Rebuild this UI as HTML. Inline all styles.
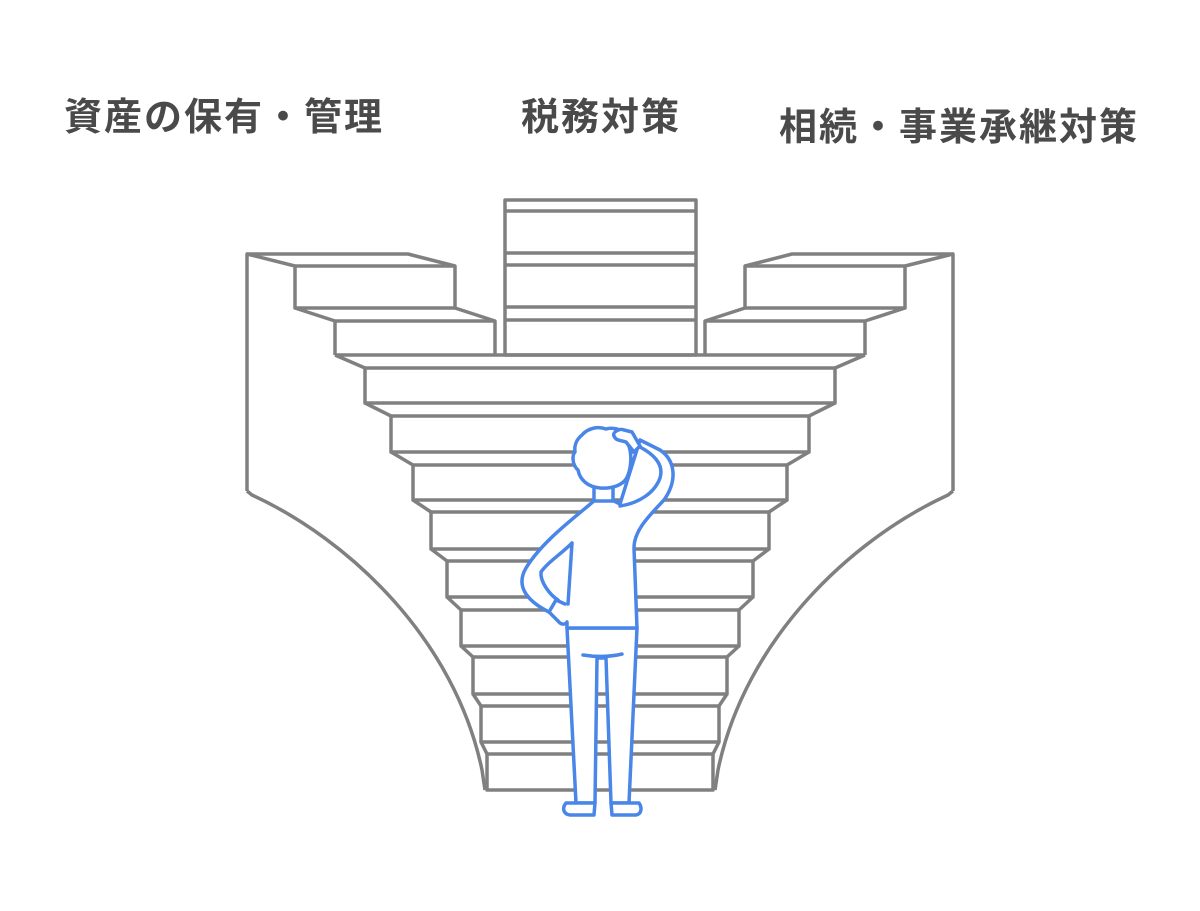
<!DOCTYPE html>
<html><head><meta charset="utf-8"><style>
html,body{margin:0;padding:0;background:#fff;}
body{width:1200px;height:911px;position:relative;overflow:hidden;}
.t{position:absolute;font-family:"Liberation Sans","Noto Sans CJK JP",sans-serif;font-weight:bold;font-size:38px;color:#4a4a4a;white-space:nowrap;line-height:1;}
svg{position:absolute;left:0;top:0;}
</style></head><body>
<div class="t" style="left:64px;top:99px;letter-spacing:2px">資産の保有・管理</div>
<div class="t" style="left:521px;top:99px;letter-spacing:2px">税務対策</div>
<div class="t" style="left:779px;top:109px;letter-spacing:2px">相続・事業承継対策</div>
<svg width="1200" height="911" viewBox="0 0 1200 911">
<g fill="none" stroke="#808080" stroke-width="3.5" stroke-linejoin="round">
<path d="M247,491 L247,254 L408,254 L455,266 L455,308 L495,321 L495,355"/>
<path d="M247,254 L295,266 L455,266 M295,266 L295,308 L455,308 M295,308 L335,321 L495,321 M335,321 L335,355"/>
<path d="M953,491 L953,254 L792,254 L745,266 L745,308 L705,321 L705,355"/>
<path d="M953,254 L905,266 L745,266 M905,266 L905,308 L745,308 M905,308 L865,321 L705,321 M865,321 L865,355"/>
<path d="M247,491 L252,495 C350,540 455,640 482,770 L485,790"/>
<path d="M953,491 L948,495 C850,540 745,640 718,770 L715,790"/>
<rect x="505" y="200" width="191" height="155"/>
<path d="M505,211H696 M505,253H696 M505,265H696 M505,307H696 M505,320H696"/>
<path d="M335,355 L865,355 M335,355 L365,368 M865,355 L835,368"/>
<rect x="365" y="368" width="470" height="35"/>
<path d="M365,403 L391,416 M835,403 L809,416"/><rect x="391" y="416" width="418" height="36"/>
<path d="M391,452 L413,465 M809,452 L787,465"/><rect x="413" y="465" width="374" height="35"/>
<path d="M413,500 L431,512 M787,500 L769,512"/><rect x="431" y="512" width="338" height="37"/>
<path d="M431,549 L447,561 M769,549 L753,561"/><rect x="447" y="561" width="306" height="36"/>
<path d="M447,597 L461,610 M753,597 L739,610"/><rect x="461" y="610" width="278" height="36"/>
<path d="M461,646 L473,657 M739,646 L727,657"/><rect x="473" y="657" width="254" height="37"/>
<path d="M473,694 L481,706 M727,694 L719,706"/><rect x="481" y="706" width="238" height="36"/>
<path d="M481,742 L487,754 M719,742 L713,754"/><rect x="487" y="754" width="226" height="36"/>
</g>
<g fill="#fff" stroke="#4a86e8" stroke-width="3.5" stroke-linejoin="round" stroke-linecap="round">
<path d="M567,628 L576,803 L595,803 L597,658 L606,658 L611,803 L629,803 L637,628 Z"/>
<path d="M566,803 C562,808 563,814 570,815 L594,815 L595,803 Z M611,803 L612,815 L636,815 C642,814 642,807 639,803 Z"/>
<path d="M583,655 C595,657 610,657 622,654" fill="none"/>
<path d="M588,506 C565,525 540,545 526,568 C516,585 525,600 549,612 L558,621 C562,626 566,624 567,622 L567,628 L637,628 L634,548 C634,530 650,515 664,500 C678,480 675,460 660,450 L640,440 L620,504 L612,500 L595,500 Z"/>
<path d="M572,543 L568,604 M572,543 C560,555 548,562 541,572 C540,582 550,595 558,600" fill="none"/>
<path d="M549,612 L556,600 L565,604" fill="none"/>
<path d="M620,506 C640,503 655,492 660,478 C664,465 655,455 640,447" fill="none"/>
<rect x="594" y="484" width="19" height="17"/>
<path d="M582,435 C588,428 598,426 606,429 C612,427 622,429 626,435 L630,450 C632,460 630,470 628,475 C625,485 612,489 600,488 C588,487 580,480 578,470 C572,465 572,455 575,452 C574,445 577,439 582,435 Z"/>
<path d="M614,436 C612,432 620,428 624,430 L632,432 L640,446 L634,452 L626,442 C620,440 616,441 614,436 Z"/>
</g>
</svg>
</body></html>
